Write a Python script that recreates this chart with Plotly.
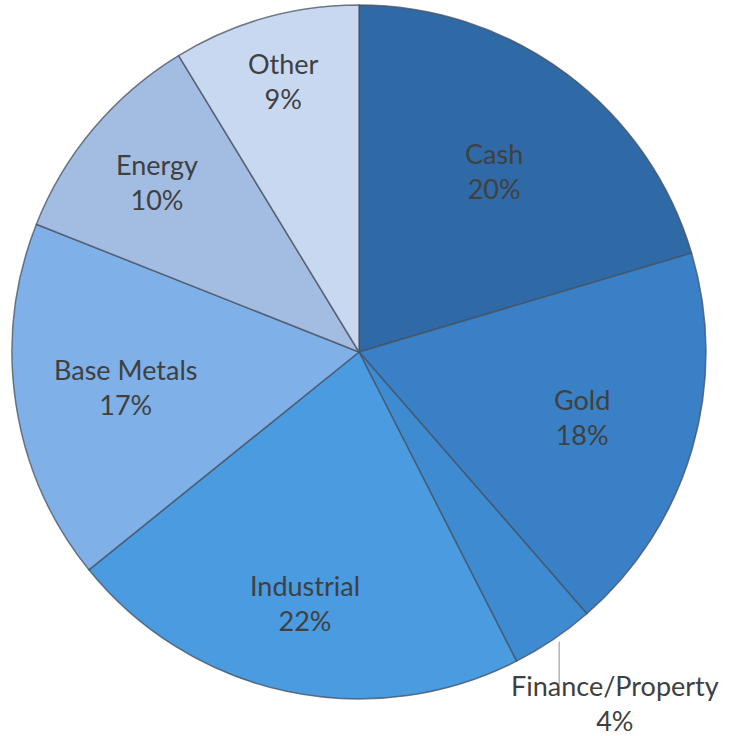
import math
import plotly.graph_objects as go

labels = ["Cash", "Gold", "Finance/Property", "Industrial", "Base Metals", "Energy", "Other"]
values = [20.4, 18.2, 3.9, 21.7, 16.8, 10.3, 8.7]
colors = ["#2f6aa6", "#3a80c6", "#3f8bd2", "#4a9be0", "#7fb0e8", "#a3bde2", "#c8d8f0"]
label_radius = [0.65, 0.67, 1.0, 0.74, 0.68, 0.76, 0.81]

W, H = 734, 736
cx, cy, R = 359, 352, 347

fig = go.Figure(go.Pie(
    labels=labels, values=values, sort=False, direction="clockwise", rotation=0,
    marker=dict(colors=colors, line=dict(color="rgba(70,80,95,0.75)", width=1.5)),
    textinfo="none", hoverinfo="label+percent", showlegend=False,
    domain=dict(x=[(cx - R) / W, (cx + R) / W], y=[1 - (cy + R) / H, 1 - (cy - R) / H]),
))

total = sum(values)
cum = 0
annotations = []
shapes = []
for lab, v, rf in zip(labels, values, label_radius):
    mid = (cum + v / 2) / total * 2 * math.pi
    cum += v
    pct = f"{round(v / total * 100)}%"
    if rf >= 1.0:
        ex = cx + R * math.sin(mid)
        ey = cy - R * math.cos(mid)
        lx = ex + 6
        shapes.append(dict(type="line", xref="paper", yref="paper",
                           x0=lx / W, x1=lx / W, y0=1 - (ey + 2) / H, y1=1 - (ey + 45) / H,
                           line=dict(color="#a0a0a0", width=1.2)))
        tx, ty = lx + 56, ey + 63
    else:
        tx = cx + rf * R * math.sin(mid)
        ty = cy - rf * R * math.cos(mid)
    annotations.append(dict(x=tx / W, y=1 - ty / H, xref="paper", yref="paper",
                            text=f"{lab}<br>{pct}", showarrow=False,
                            font=dict(family="Lato", size=27, color="#404040"),
                            xanchor="center", yanchor="middle"))

fig.update_layout(width=W, height=H, margin=dict(l=0, r=0, t=0, b=0),
                  paper_bgcolor="white", plot_bgcolor="white",
                  annotations=annotations, shapes=shapes)
fig.write_html("out.html")
